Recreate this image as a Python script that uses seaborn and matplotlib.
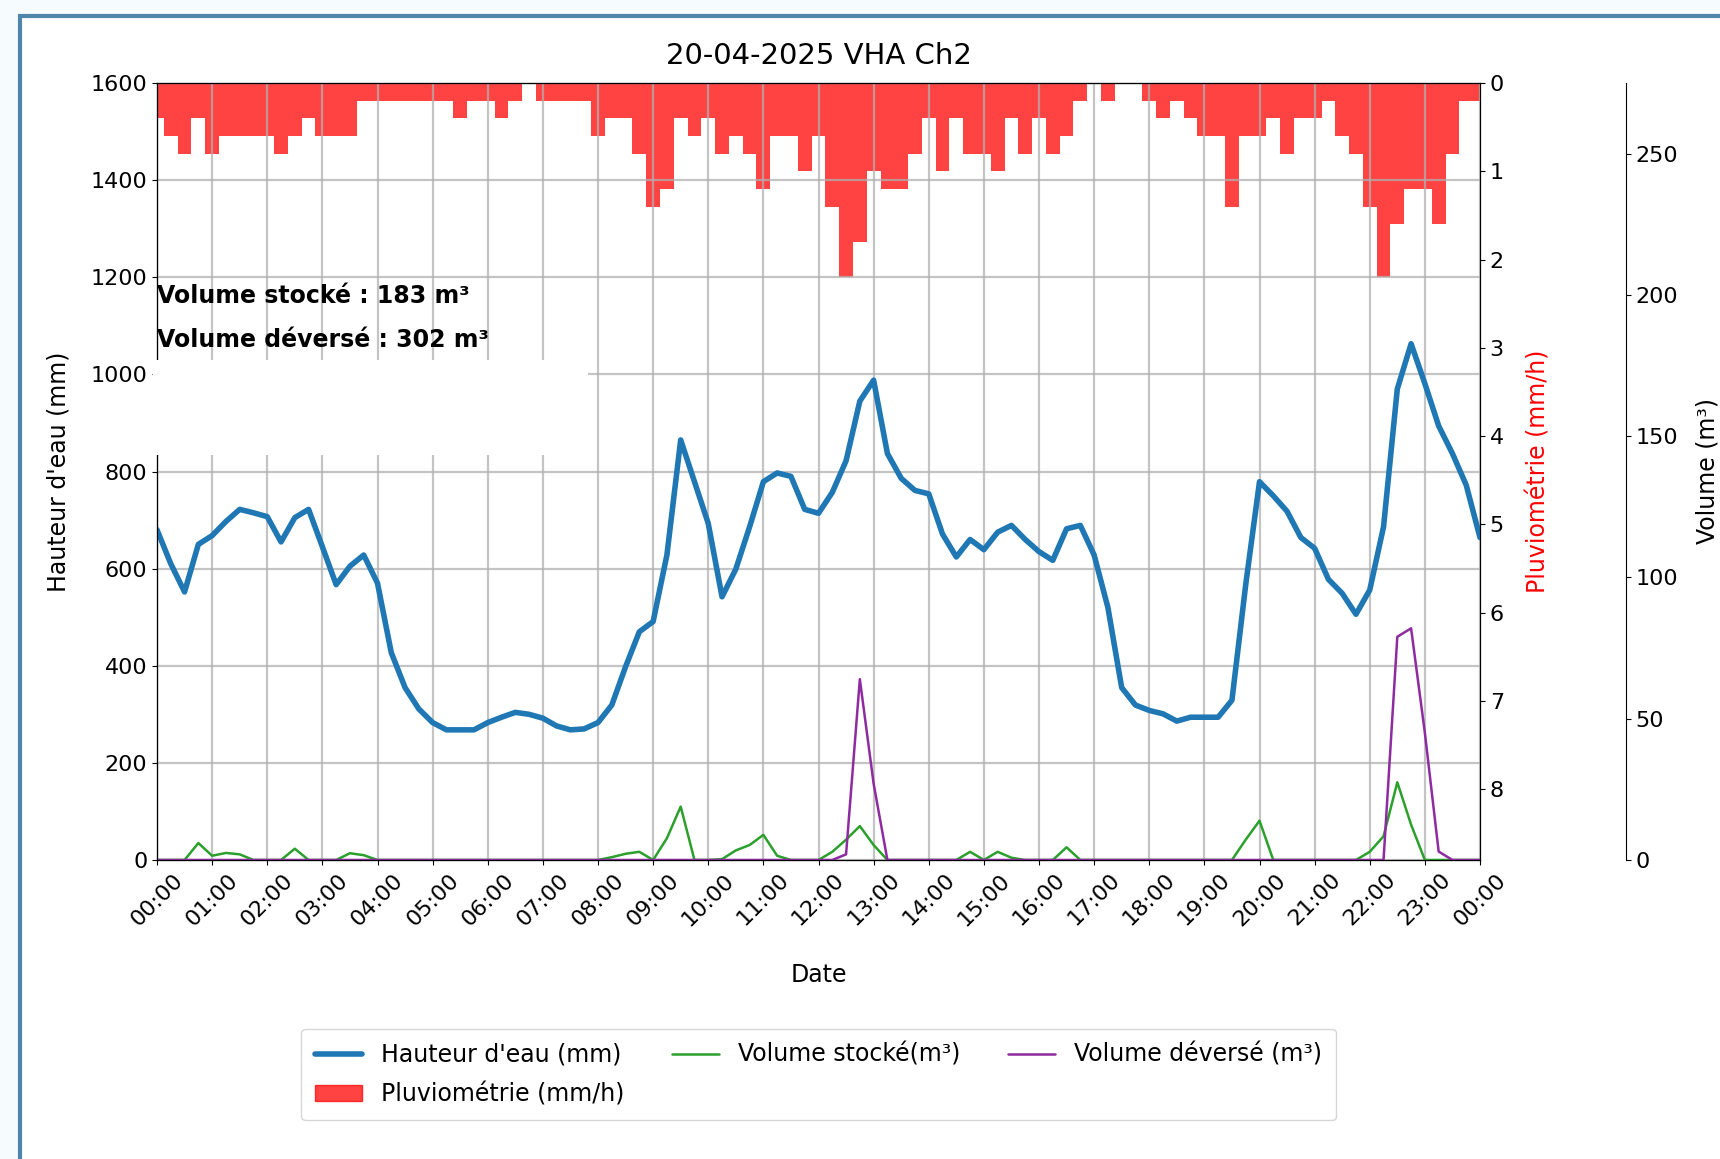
import pandas as pd
import matplotlib
matplotlib.use('Agg')
import matplotlib.pyplot as plt
import matplotlib.dates as mdates
from matplotlib.patches import Rectangle, Patch
from matplotlib.lines import Line2D
import seaborn as sns

# Data : one sample every 15 min, 20-04-2025 00:00 -> 21-04-2025 00:00
start = '2025-04-20 00:00'

hauteur = [680, 610, 552, 650, 668, 697, 722, 715, 707, 655, 705, 722,
           645, 567, 605, 628, 570, 427, 355, 311, 283, 268, 268, 268,
           283, 294, 304, 300, 292, 276, 268, 270, 283, 319, 398, 470,
           491, 628, 865, 779, 693, 542, 599, 686, 779, 797, 790, 722,
           714, 757, 822, 945, 988, 837, 786, 761, 754, 671, 624, 660,
           639, 675, 689, 660, 635, 617, 682, 689, 628, 520, 355, 319,
           308, 301, 286, 294, 294, 294, 329, 567, 779, 750, 718, 664,
           642, 578, 549, 506, 556, 686, 970, 1063, 981, 894, 837, 772,
           664]

pluie = [0.4, 0.6, 0.8, 0.4, 0.8, 0.6, 0.6, 0.6, 0.6, 0.8, 0.6, 0.4,
         0.6, 0.6, 0.6, 0.2, 0.2, 0.2, 0.2, 0.2, 0.2, 0.2, 0.4, 0.2,
         0.2, 0.4, 0.2, 0.0, 0.2, 0.2, 0.2, 0.2, 0.6, 0.4, 0.4, 0.8,
         1.4, 1.2, 0.4, 0.6, 0.4, 0.8, 0.6, 0.8, 1.2, 0.6, 0.6, 1.0,
         0.6, 1.4, 2.2, 1.8, 1.0, 1.2, 1.2, 0.8, 0.4, 1.0, 0.4, 0.8,
         0.8, 1.0, 0.4, 0.8, 0.4, 0.8, 0.6, 0.2, 0.0, 0.2, 0.0, 0.0,
         0.2, 0.4, 0.2, 0.4, 0.6, 0.6, 1.4, 0.6, 0.6, 0.4, 0.8, 0.4,
         0.4, 0.2, 0.6, 0.8, 1.4, 2.2, 1.6, 1.2, 1.2, 1.6, 0.8, 0.2,
         0.2]

vol_stocke = [0, 0, 0, 6.0, 1.5, 2.5, 2.0, 0, 0, 0, 4.0, 0,
              0, 0, 2.4, 1.7, 0, 0, 0, 0, 0, 0, 0, 0,
              0, 0, 0, 0, 0, 0, 0, 0, 0, 1.0, 2.2, 2.9,
              0, 7.7, 18.9, 0, 0, 0.3, 3.4, 5.3, 8.9, 1.5, 0, 0,
              0, 2.9, 7.2, 12.0, 5.3, 0, 0, 0, 0, 0, 0, 2.9,
              0, 2.9, 0.8, 0, 0, 0, 4.5, 0, 0, 0, 0, 0,
              0, 0, 0, 0, 0, 0, 0, 7.2, 13.9, 0, 0, 0,
              0, 0, 0, 0, 2.9, 8.4, 27.5, 12.5, 0, 0, 0, 0,
              0]

vol_deverse = [0] * 50 + [2, 64, 27] + [0] * 37 + [79, 82, 45, 3] + [0] * 3

times = pd.date_range(start, periods=len(hauteur), freq='15min')
df = pd.DataFrame({'Date': times, 'hauteur': hauteur, 'pluie': pluie,
                   'stocke': vol_stocke, 'deverse': vol_deverse})

sns.set_style('ticks')
plt.rcParams['font.family'] = ['DejaVu Sans']
plt.rcParams['text.color'] = 'black'
plt.rcParams['axes.labelcolor'] = 'black'
plt.rcParams['xtick.color'] = 'black'
plt.rcParams['ytick.color'] = 'black'
plt.rcParams['axes.edgecolor'] = 'black'

W, H = 1720, 1159
fig = plt.figure(figsize=(W / 100, H / 100), dpi=100, facecolor='#f6fbfd')

# screenshot frame
frame = Rectangle((20 / W, -0.05), 1.1, 1 - 16 / H + 0.05, transform=fig.transFigure,
                  facecolor='white', edgecolor='#4f84ab', lw=3, zorder=-1)
fig.add_artist(frame)

ax1 = fig.add_axes([157 / W, 1 - 860 / H, 1323 / W, 777 / H])
ax1.set_zorder(1)

# Hauteur d'eau
sns.lineplot(data=df, x='Date', y='hauteur', ax=ax1, color='#1f77b4', lw=4, legend=False)
ax1.set_ylim(0, 1600)
ax1.set_yticks(range(0, 1601, 200))
ax1.set_xlim(times[0], times[-1])
ax1.xaxis.set_major_locator(mdates.HourLocator())
ax1.xaxis.set_major_formatter(mdates.DateFormatter('%H:%M'))
ax1.grid(True, color='#b0b0b0', lw=1.6, alpha=0.75)
ax1.set_ylabel("Hauteur d'eau (mm)", fontsize=17, labelpad=14)
ax1.set_xlabel('Date', fontsize=17, labelpad=24)
ax1.set_title('20-04-2025 VHA Ch2', fontsize=21, pad=14)
ax1.tick_params(axis='both', labelsize=16)
plt.setp(ax1.get_xticklabels(), rotation=45)

# Pluviometrie (inverted)
ax2 = ax1.twinx()
ax2.set_zorder(0)
ax1.patch.set_visible(False)
ax2.bar(times, pluie, width=15 / 1440, color='red', alpha=0.74, align='center',
        linewidth=0, edgecolor='none')
ax2.set_ylim(8.8, 0)
ax2.set_yticks(range(0, 9))
ax2.set_ylabel('Pluviométrie (mm/h)', color='red', fontsize=17, labelpad=16)
ax2.tick_params(axis='y', labelsize=16)

# Volumes
ax3 = ax1.twinx()
ax3.set_zorder(2)
ax3.spines['right'].set_position(('axes', 1.11))
sns.lineplot(data=df, x='Date', y='stocke', ax=ax3, color='tab:green', lw=1.8, legend=False)
sns.lineplot(data=df, x='Date', y='deverse', ax=ax3, color='#8e2ba0', lw=1.8, legend=False)
ax3.set_ylim(0, 275)
ax3.set_yticks(range(0, 251, 50))
ax3.set_ylabel('Volume (m³)', fontsize=17, labelpad=13)
ax3.set_xlabel('')
ax3.tick_params(axis='y', labelsize=16)

# white patch left behind the annotation
ax3.add_patch(Rectangle((-0.003, 0.521), 0.329, 0.122, transform=ax3.transAxes,
                        facecolor='white', edgecolor='none', zorder=10, clip_on=False))

ax1.text(0.0, 0.726, 'Volume stocké : 183 m³', transform=ax1.transAxes,
         fontsize=17, fontweight='bold', va='center')
ax1.text(0.0, 0.669, 'Volume déversé : 302 m³', transform=ax1.transAxes,
         fontsize=17, fontweight='bold', va='center')

handles = [Line2D([], [], color='#1f77b4', lw=4),
           Patch(color='red', alpha=0.74),
           Line2D([], [], color='tab:green', lw=1.8),
           Line2D([], [], color='#8e2ba0', lw=1.8)]
labels = ["Hauteur d'eau (mm)", 'Pluviométrie (mm/h)', 'Volume stocké(m³)', 'Volume déversé (m³)']
ax3.legend(handles, labels, ncol=3, loc='upper center', bbox_to_anchor=(0.5, -0.202),
           fontsize=17, frameon=True, labelspacing=0.65, borderpad=0.6)

fig.savefig('out.png', dpi=100, facecolor=fig.get_facecolor())
